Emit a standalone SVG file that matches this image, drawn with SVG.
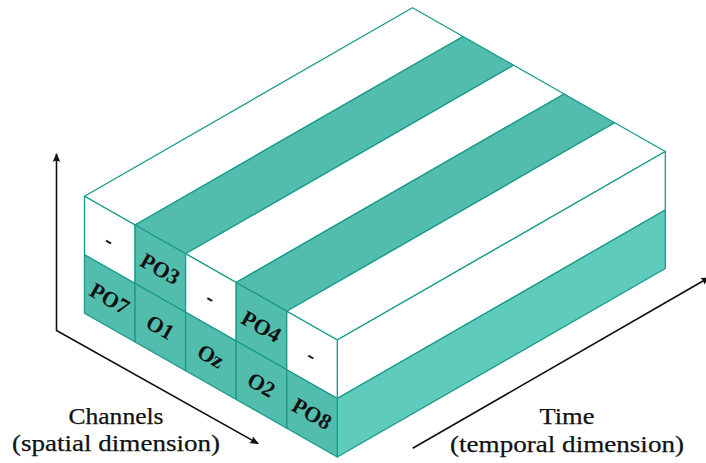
<svg xmlns="http://www.w3.org/2000/svg" width="706" height="463" viewBox="0 0 706 463">
  <style>
    .face { stroke: #189a8a; stroke-width: 1.3; stroke-linejoin: round; }
    .white { fill: #ffffff; }
    .teal { fill: #52bdad; }
    .side { fill: #5fcbbb; }
    .lbl { font-family: "Liberation Serif", "DejaVu Serif", serif; font-weight: bold; font-size: 22px; fill: #111; text-anchor: middle; }
    .axis { fill: none; stroke: #111; stroke-width: 1.6; stroke-linejoin: miter; }
    .cap { font-family: "Liberation Serif", "DejaVu Serif", serif; font-size: 24px; fill: #111; stroke: #111; stroke-width: 0.25; text-anchor: middle; }
  </style>
  <defs>
    <marker id="tip" viewBox="-10 -5 12 10" refX="0" refY="0" markerWidth="12" markerHeight="10" markerUnits="userSpaceOnUse" orient="auto-start-reverse">
      <path d="M1,0 L-8,-3.8 Q-5.5,0 -8,3.8 Z" fill="#111"/>
    </marker>
  </defs>

  <!-- top face: one stripe per channel column -->
  <g id="top-0"><polygon class="face white" points="84.5,196.2 135.06,224.96 463.06,36.46 412.5,7.7"/></g>
  <g id="top-1"><polygon class="face teal" points="135.06,224.96 185.62,253.72 513.62,65.22 463.06,36.46"/></g>
  <g id="top-2"><polygon class="face white" points="185.62,253.72 236.18,282.48 564.18,93.98 513.62,65.22"/></g>
  <g id="top-3"><polygon class="face teal" points="236.18,282.48 286.74,311.24 614.74,122.74 564.18,93.98"/></g>
  <g id="top-4"><polygon class="face white" points="286.74,311.24 337.3,340 665.3,151.5 614.74,122.74"/></g>

  <!-- right face: time extent of both layers -->
  <g id="side-upper"><polygon class="face white" points="337.3,340 665.3,151.5 665.3,210 337.3,398.5"/></g>
  <g id="side-lower"><polygon class="face side" points="337.3,398.5 665.3,210 665.3,268.5 337.3,457"/></g>

  <!-- front face: upper layer -->
  <g id="cell-u0">
    <polygon class="face white" points="84.5,196.2 135.06,224.96 135.06,283.46 84.5,254.7"/>
    <text class="lbl" transform="translate(109.78,239.83) rotate(29.6)" dy="0.35em">-</text>
  </g>
  <g id="cell-u1">
    <polygon class="face teal" points="135.06,224.96 185.62,253.72 185.62,312.22 135.06,283.46"/>
    <text class="lbl" transform="translate(160.34,268.59) rotate(29.6)" dy="0.35em">PO3</text>
  </g>
  <g id="cell-u2">
    <polygon class="face white" points="185.62,253.72 236.18,282.48 236.18,340.98 185.62,312.22"/>
    <text class="lbl" transform="translate(210.9,297.35) rotate(29.6)" dy="0.35em">-</text>
  </g>
  <g id="cell-u3">
    <polygon class="face teal" points="236.18,282.48 286.74,311.24 286.74,369.74 236.18,340.98"/>
    <text class="lbl" transform="translate(261.46,326.11) rotate(29.6)" dy="0.35em">PO4</text>
  </g>
  <g id="cell-u4">
    <polygon class="face white" points="286.74,311.24 337.3,340 337.3,398.5 286.74,369.74"/>
    <text class="lbl" transform="translate(312.02,354.87) rotate(29.6)" dy="0.35em">-</text>
  </g>

  <!-- front face: lower layer -->
  <g id="cell-l0">
    <polygon class="face teal" points="84.5,254.7 135.06,283.46 135.06,341.96 84.5,313.2"/>
    <text class="lbl" transform="translate(109.78,298.33) rotate(29.6)" dy="0.35em">PO7</text>
  </g>
  <g id="cell-l1">
    <polygon class="face teal" points="135.06,283.46 185.62,312.22 185.62,370.72 135.06,341.96"/>
    <text class="lbl" transform="translate(160.34,327.09) rotate(29.6)" dy="0.35em">O1</text>
  </g>
  <g id="cell-l2">
    <polygon class="face teal" points="185.62,312.22 236.18,340.98 236.18,399.48 185.62,370.72"/>
    <text class="lbl" transform="translate(210.9,355.85) rotate(29.6)" dy="0.35em">Oz</text>
  </g>
  <g id="cell-l3">
    <polygon class="face teal" points="236.18,340.98 286.74,369.74 286.74,428.24 236.18,399.48"/>
    <text class="lbl" transform="translate(261.46,384.61) rotate(29.6)" dy="0.35em">O2</text>
  </g>
  <g id="cell-l4">
    <polygon class="face teal" points="286.74,369.74 337.3,398.5 337.3,457 286.74,428.24"/>
    <text class="lbl" transform="translate(312.02,413.37) rotate(29.6)" dy="0.35em">PO8</text>
  </g>

  <!-- axes -->
  <g id="axes">
    <path class="axis" d="M56.5,154 V330.5 L258,443.5" marker-start="url(#tip)" marker-end="url(#tip)"/>
    <path class="axis" d="M412.7,448.3 L709,277.5" marker-end="url(#tip)"/>
  </g>

  <!-- axis captions -->
  <g id="caption-channels">
    <text class="cap" x="116" y="424" textLength="95" lengthAdjust="spacingAndGlyphs">Channels</text>
    <text class="cap" x="116" y="451" textLength="208" lengthAdjust="spacingAndGlyphs">(spatial dimension)</text>
  </g>
  <g id="caption-time">
    <text class="cap" x="567" y="424" textLength="55" lengthAdjust="spacingAndGlyphs">Time</text>
    <text class="cap" x="567" y="452" textLength="234" lengthAdjust="spacingAndGlyphs">(temporal dimension)</text>
  </g>
</svg>
